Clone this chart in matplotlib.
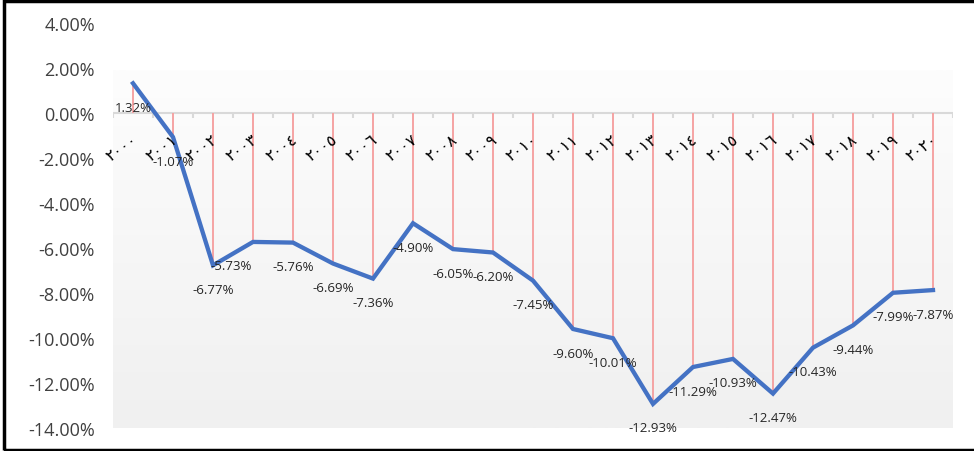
import matplotlib
matplotlib.use("Agg")
import matplotlib.pyplot as plt
import numpy as np
from matplotlib.colors import LinearSegmentedColormap
from matplotlib.patches import Rectangle

plt.rcParams['font.family'] = ['Open Sans', 'DejaVu Sans']

# years 2000..2020 written with Arabic-Indic digits
years = ['٢٠٠٠', '٢٠٠١', '٢٠٠٢', '٢٠٠٣', '٢٠٠٤', '٢٠٠٥', '٢٠٠٦', '٢٠٠٧',
         '٢٠٠٨', '٢٠٠٩', '٢٠١٠', '٢٠١١', '٢٠١٢', '٢٠١٣', '٢٠١٤', '٢٠١٥',
         '٢٠١٦', '٢٠١٧', '٢٠١٨', '٢٠١٩', '٢٠٢٠']
values = [1.32, -1.07, -6.77, -5.73, -5.76, -6.69, -7.36, -4.90, -6.05, -6.20,
          -7.45, -9.60, -10.01, -12.93, -11.29, -10.93, -12.47, -10.43, -9.44,
          -7.99, -7.87]
yticks = [4, 2, 0, -2, -4, -6, -8, -10, -12, -14]

line_color = '#4472C4'
drop_color = '#F5A3A3'
text_color = '#262626'

fig = plt.figure(figsize=(9.74, 4.52), dpi=100)
ax = fig.add_axes([113/974, 23/452, 840/974, 405/452])

x = np.arange(len(values))

# soft grey gradient behind the plot area
grad = np.linspace(0, 1, 256).reshape(-1, 1)
cmap = LinearSegmentedColormap.from_list('bg', ['#f0f0f0', '#fdfdfd'])
ax.imshow(grad, cmap=cmap, aspect='auto', origin='lower',
          extent=[-0.5, len(values) - 0.5, -14, 1.87], zorder=0)

# drop lines from the axis to each point
ax.vlines(x, 0, values, colors=drop_color, lw=1.4, zorder=2)
ax.axhline(0, color='#d9d9d9', lw=1.5, zorder=1)
ax.plot(x, values, color=line_color, lw=3.1, zorder=3, solid_joinstyle='miter')

for i, v in enumerate(values):
    dx = -22 if i == 3 else 0
    ax.annotate('%.2f%%' % v, (i, v), xytext=(dx, -24), textcoords='offset pixels',
                ha='center', va='center', fontsize=9.5, color=text_color, zorder=4)

# year labels hang just under the zero line
for i, yr in enumerate(years):
    ax.annotate(yr, (i, 0), xytext=(3, -24), textcoords='offset pixels',
                ha='right', va='center', rotation=36, rotation_mode='anchor',
                fontsize=11.5, color='black', family='DejaVu Sans')

# small tick marks between categories on the zero line
ax.vlines(np.arange(len(values) + 1) - 0.5, 0, -0.22, colors='#d9d9d9', lw=1.5, zorder=1)

ax.set_xlim(-0.5, len(values) - 0.5)
ax.set_ylim(-14, 4)
ax.set_xticks([])
ax.set_yticks(yticks)
ax.set_yticklabels(['%.2f%%' % t for t in yticks])
ax.tick_params(axis='y', length=0, pad=13, labelsize=13, labelcolor='#404040')
for s in ax.spines.values():
    s.set_visible(False)
ax.patch.set_visible(False)

# frame around the whole chart
fig.add_artist(Rectangle((3.5/974, 1.5/452), 1.2, 449/452, transform=fig.transFigure,
                         fill=False, edgecolor='black', lw=2.5, clip_on=False))

fig.savefig('out.png', dpi=100)
